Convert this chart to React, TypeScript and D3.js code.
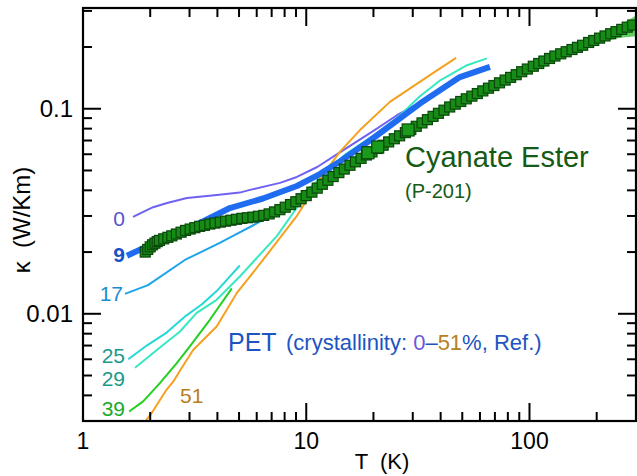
import React from 'react';
import * as d3 from 'd3';

// ---------- data ----------
const X_DOMAIN: [number, number] = [1, 300];
const Y_DOMAIN: [number, number] = [0.003, 0.31];

const X_MAJOR = [1, 10, 100];
const X_MAJOR_LABELS = ['1', '10', '100'];
const X_MINOR = [2, 3, 4, 5, 6, 7, 8, 9, 20, 30, 40, 50, 60, 70, 80, 90, 200];
const Y_MAJOR = [0.01, 0.1];
const Y_MAJOR_LABELS = ['0.01', '0.1'];
const Y_MINOR = [0.003, 0.004, 0.005, 0.006, 0.007, 0.008, 0.009, 0.02, 0.03, 0.04, 0.05, 0.06, 0.07, 0.08, 0.09, 0.2, 0.3];

// Cyanate Ester (P-201)
const CE_T = [1.90, 1.95, 2.00, 2.05, 2.10, 2.15, 2.20, 2.30, 2.40, 2.50, 2.62, 2.75, 2.88, 3.02, 3.17, 3.33, 3.50, 3.70, 3.90, 4.12, 4.35, 4.60, 4.87, 5.15, 5.45, 5.77, 6.10, 6.45, 6.82, 7.21, 7.62, 8.05, 8.50, 8.98, 9.48, 10.0, 10.6, 11.2, 11.8, 12.5, 13.2, 14.0, 14.8, 15.7, 16.6, 17.6, 18.6, 19.7, 20.9, 22.1, 23.4, 24.8, 26.2, 27.8, 29.4, 31.1, 33.0, 34.9, 37.0, 39.1, 41.4, 43.9, 46.5, 49.2, 52.1, 55.2, 58.4, 61.8, 65.5, 69.3, 73.4, 77.8, 82.3, 87.2, 92.3, 97.8, 104, 110, 116, 123, 130, 138, 146, 155, 164, 173, 184, 194, 206, 218, 231, 244, 259, 274, 290];
const CE_K = [0.0200, 0.0206, 0.0212, 0.0217, 0.0221, 0.0225, 0.0228, 0.0232, 0.0236, 0.0240, 0.0245, 0.0250, 0.0255, 0.0259, 0.0263, 0.0267, 0.0270, 0.0274, 0.0277, 0.0280, 0.0283, 0.0286, 0.0289, 0.0292, 0.0294, 0.0296, 0.0299, 0.0302, 0.0307, 0.0314, 0.0322, 0.0331, 0.0341, 0.0352, 0.0364, 0.0377, 0.0392, 0.0410, 0.0428, 0.0448, 0.0467, 0.0488, 0.0508, 0.0530, 0.0551, 0.0573, 0.0595, 0.0616, 0.0640, 0.0664, 0.0689, 0.0714, 0.0738, 0.0765, 0.0792, 0.0821, 0.0853, 0.0885, 0.0918, 0.0950, 0.0984, 0.1020, 0.1053, 0.1085, 0.1118, 0.1152, 0.1186, 0.1222, 0.1260, 0.1298, 0.1338, 0.1380, 0.1422, 0.1466, 0.1516, 0.1562, 0.1612, 0.1662, 0.1709, 0.1759, 0.1808, 0.1853, 0.1897, 0.1945, 0.1993, 0.2040, 0.2105, 0.2153, 0.2210, 0.2265, 0.2322, 0.2376, 0.2438, 0.2500, 0.2560];
const CE_BIG_T = [18.9, 20.9, 28.6];
const CE_BIG_K = [0.0610, 0.0651, 0.0788];
const CE_BAND_T = [185, 220, 255, 300];
const CE_BAND_LO = [0.206, 0.214, 0.222, 0.226];
const CE_BAND_HI = [0.212, 0.232, 0.256, 0.285];
const CE_BAND0_T = [1.82, 1.95, 2.1];
const CE_BAND0_LO = [0.0188, 0.0196, 0.0212];
const CE_BAND0_HI = [0.0205, 0.0215, 0.0228];

// PET, crystallinity series
const PET0_T = [1.675, 2.06, 2.38, 2.92, 3.98, 5.04, 5.6, 7.63, 9.08, 11.2, 14.2, 20.0, 25.5, 32.3, 48.8, 66.0];
const PET0_K = [0.0297, 0.0331, 0.0347, 0.0367, 0.0380, 0.0390, 0.0402, 0.0435, 0.0465, 0.0520, 0.0615, 0.0780, 0.0930, 0.1070, 0.1420, 0.1590];
const PET9_T = [1.574, 2.21, 2.92, 4.55, 6.4, 9.08, 11.5, 14.2, 20.0, 32.3, 48.8, 66.5];
const PET9_K = [0.0192, 0.0228, 0.0258, 0.0328, 0.0365, 0.0420, 0.0480, 0.0555, 0.0720, 0.1060, 0.1427, 0.1600];
const PET17_T = [1.542, 1.955, 2.86, 4.10, 4.70, 5.60, 7.50, 10.6, 13.0];
const PET17_K = [0.0125, 0.0138, 0.0183, 0.0222, 0.0240, 0.0265, 0.0315, 0.0420, 0.0500];
const PET25_T = [1.595, 1.93, 2.37, 2.90, 3.40, 3.97, 4.50, 5.04];
const PET25_K = [0.0060, 0.0070, 0.0081, 0.0098, 0.0111, 0.0129, 0.0150, 0.0172];
const PET29_T = [1.71, 2.29, 2.72, 3.23, 3.97, 5.04, 5.89, 7.4, 10.6, 15.0, 20.0, 25.5, 32.3, 40.0, 52.5, 64.4];
const PET29_K = [0.00545, 0.00707, 0.0082, 0.0101, 0.0117, 0.0152, 0.0183, 0.0240, 0.0420, 0.0600, 0.0740, 0.0900, 0.1150, 0.1380, 0.1630, 0.1760];
const PET39_T = [1.61, 1.86, 2.21, 2.63, 3.01, 3.70, 4.64];
const PET39_K = [0.00334, 0.00374, 0.00459, 0.00575, 0.00694, 0.00935, 0.0133];
const PET51_T = [1.85, 2.03, 2.37, 2.54, 2.77, 3.12, 3.97, 4.88, 6.4, 9.08, 11.5, 14.2, 17.4, 23.7, 35.8, 46.9];
const PET51_K = [0.00287, 0.00328, 0.00427, 0.00468, 0.00545, 0.00668, 0.00867, 0.0126, 0.0183, 0.0300, 0.0453, 0.0620, 0.0787, 0.1080, 0.1460, 0.1770];

const PET_SERIES = [
  { name: '0', T: PET0_T, K: PET0_K, color: '#6f62f2', width: 2 },
  { name: '17', T: PET17_T, K: PET17_K, color: '#1ea4ea', width: 2 },
  { name: '25', T: PET25_T, K: PET25_K, color: '#24d8d8', width: 2 },
  { name: '29', T: PET29_T, K: PET29_K, color: '#38e8c2', width: 2 },
  { name: '39', T: PET39_T, K: PET39_K, color: '#22d022', width: 2 },
  { name: '51', T: PET51_T, K: PET51_K, color: '#f5a01e', width: 2 },
  { name: '9', T: PET9_T, K: PET9_K, color: '#1f6cf0', width: 6 },
];

// ---------- layout ----------
const W = 637;
const H = 476;
const L = 83, R = 636, TOP = 8, BOT = 421;
const FONT = '"Liberation Sans", Arial, Helvetica, sans-serif';

export default function App() {
  const x = d3.scaleLog().domain(X_DOMAIN).range([L, R]);
  const y = d3.scaleLog().domain(Y_DOMAIN).range([BOT, TOP]);
  const line = d3.line<[number, number]>().x(d => x(d[0])).y(d => y(d[1])).curve(d3.curveLinear);
  const area = d3.area<[number, number, number]>().x(d => x(d[0])).y0(d => y(d[1])).y1(d => y(d[2]));

  const ce = CE_T.map((t, i) => [t, CE_K[i]] as [number, number]);
  const ceBig = CE_BIG_T.map((t, i) => [t, CE_BIG_K[i]] as [number, number]);
  const band1 = CE_BAND_T.map((t, i) => [t, CE_BAND_LO[i], CE_BAND_HI[i]] as [number, number, number]);
  const band0 = CE_BAND0_T.map((t, i) => [t, CE_BAND0_LO[i], CE_BAND0_HI[i]] as [number, number, number]);

  const MAJ = 18, MIN = 9;
  const sq = 10, sqBig = 12;

  return (
    <svg width={W} height={H} style={{ position: 'absolute', left: 0, top: 0, display: 'block', background: '#fff' }} fontFamily={FONT}>
      <defs>
        <clipPath id="plot"><rect x={L} y={TOP} width={R - L} height={BOT - TOP} /></clipPath>
      </defs>
      <g clipPath="url(#plot)">
        {PET_SERIES.map(s => (
          <path key={s.name} d={line(s.T.map((t, i) => [t, s.K[i]] as [number, number])) || ''}
            fill="none" stroke={s.color} strokeWidth={s.width} strokeLinejoin="round" strokeLinecap="butt" />
        ))}
        <path d={area(band1) || ''} fill="#5fcf5f" />
        <path d={area(band0) || ''} fill="#5fcf5f" />
        {ce.map((d, i) => (
          <rect key={i} x={x(d[0]) - sq / 2} y={y(d[1]) - sq / 2} width={sq} height={sq}
            fill="#168c16" stroke="#0a470a" strokeWidth={1.2} />
        ))}
        {ceBig.map((d, i) => (
          <rect key={'b' + i} x={x(d[0]) - sqBig / 2} y={y(d[1]) - sqBig / 2} width={sqBig} height={sqBig}
            fill="#1a9a1a" stroke="#0a470a" strokeWidth={1.2} />
        ))}
      </g>

      {/* frame */}
      <rect x={L} y={TOP} width={R - L} height={BOT - TOP} fill="none" stroke="#000" strokeWidth={2.2} />
      {X_MAJOR.map(v => (
        <g key={'xM' + v}>
          <line x1={x(v)} x2={x(v)} y1={BOT} y2={BOT - MAJ} stroke="#000" strokeWidth={2} />
          <line x1={x(v)} x2={x(v)} y1={TOP} y2={TOP + MAJ} stroke="#000" strokeWidth={2} />
        </g>
      ))}
      {X_MINOR.map(v => (
        <g key={'xm' + v}>
          <line x1={x(v)} x2={x(v)} y1={BOT} y2={BOT - MIN} stroke="#000" strokeWidth={2} />
          <line x1={x(v)} x2={x(v)} y1={TOP} y2={TOP + MIN} stroke="#000" strokeWidth={2} />
        </g>
      ))}
      {Y_MAJOR.map(v => (
        <g key={'yM' + v}>
          <line x1={L} x2={L + MAJ} y1={y(v)} y2={y(v)} stroke="#000" strokeWidth={2} />
          <line x1={R} x2={R - MAJ} y1={y(v)} y2={y(v)} stroke="#000" strokeWidth={2} />
        </g>
      ))}
      {Y_MINOR.map(v => (
        <g key={'ym' + v}>
          <line x1={L} x2={L + MIN} y1={y(v)} y2={y(v)} stroke="#000" strokeWidth={2} />
          <line x1={R} x2={R - MIN} y1={y(v)} y2={y(v)} stroke="#000" strokeWidth={2} />
        </g>
      ))}
      {X_MAJOR.map((v, i) => (
        <text key={'xl' + v} x={x(v)} y={449} textAnchor="middle" fontSize={23} fill="#000">{X_MAJOR_LABELS[i]}</text>
      ))}
      {Y_MAJOR.map((v, i) => (
        <text key={'yl' + v} x={73} y={y(v) + 8.5} textAnchor="end" fontSize={24} fill="#000">{Y_MAJOR_LABELS[i]}</text>
      ))}
      <text x={382} y={469} textAnchor="middle" fontSize={22} fill="#000" style={{ whiteSpace: 'pre' }}>{'T  (K)'}</text>
      <text transform="translate(30,220) rotate(-90)" textAnchor="middle" fontSize={24} fill="#000" style={{ whiteSpace: 'pre' }}>{'κ  (W/Km)'}</text>

      <text x={125} y={226} textAnchor="end" fontSize={21} fill="#5a52cc">0</text>
      <text x={125} y={262} textAnchor="end" fontSize={21} fontWeight="bold" fill="#1a52c4">9</text>
      <text x={123} y={301} textAnchor="end" fontSize={21} fill="#1a8cd0">17</text>
      <text x={125} y={363} textAnchor="end" fontSize={21} fill="#1a9a8e">25</text>
      <text x={125} y={386} textAnchor="end" fontSize={21} fill="#1a9a86">29</text>
      <text x={125} y={416} textAnchor="end" fontSize={21} fill="#1aaa2a">39</text>
      <text x={180} y={403} textAnchor="start" fontSize={21} fill="#b87d1a">51</text>

      <text x={228} y={351} fontSize={25} fill="#1c55c2">PET</text>
      <text x={286} y={350} fontSize={22} fill="#1c55c2" style={{ whiteSpace: 'pre' }}>
        {'(crystallinity: '}<tspan fill="#6a5ad8">0</tspan>{'–'}<tspan fill="#b8801a">51</tspan>{'%, Ref.)'}
      </text>

      <text x={405} y={167} fontSize={29} fill="#155a15">Cyanate Ester</text>
      <text x={405} y={198} fontSize={20} fill="#155a15">(P-201)</text>
    </svg>
  );
}
